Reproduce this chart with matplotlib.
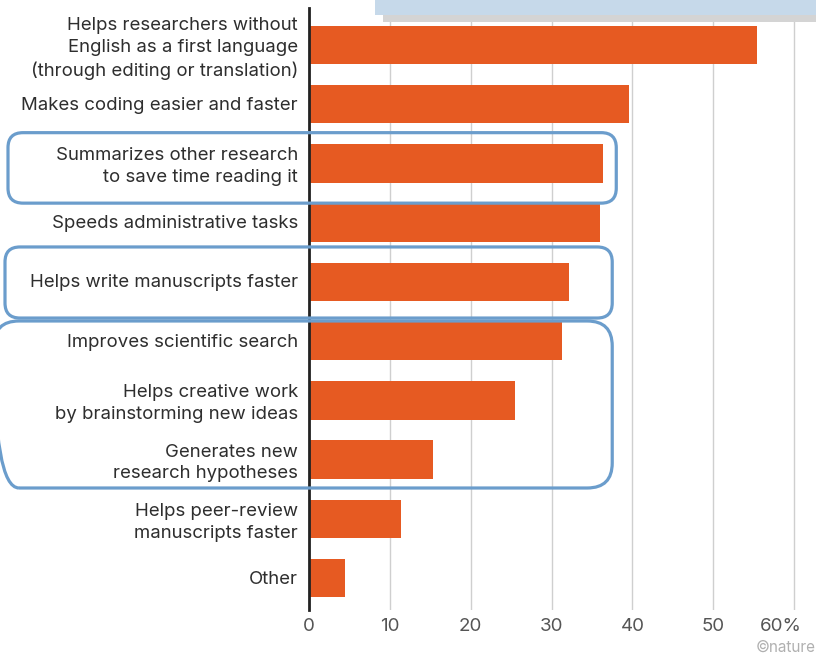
import matplotlib
matplotlib.use('Agg')
import matplotlib.pyplot as plt
from matplotlib.patches import FancyBboxPatch, Rectangle
from matplotlib.transforms import IdentityTransform, ScaledTranslation

categories = [
    "Helps researchers without\nEnglish as a first language\n(through editing or translation)",
    "Makes coding easier and faster",
    "Summarizes other research\nto save time reading it",
    "Speeds administrative tasks",
    "Helps write manuscripts faster",
    "Improves scientific search",
    "Helps creative work\nby brainstorming new ideas",
    "Generates new\nresearch hypotheses",
    "Helps peer-review\nmanuscripts faster",
    "Other",
]
values = [55.4, 39.6, 36.3, 36.0, 32.2, 31.3, 25.5, 15.3, 11.4, 4.5]
xticks = [0, 10, 20, 30, 40, 50, 60]
xticklabels = ["0", "10", "20", "30", "40", "50", "60%"]
# highlight groups: (first index, last index)
groups = [(2, 2), (4, 4), (5, 7)]

plt.rcParams['font.family'] = ['Inter', 'DejaVu Sans']

W, H = 816, 655
fig = plt.figure(figsize=(W / 100, H / 100), dpi=100)
ax = fig.add_axes([309 / W, 1 - 610 / H, 1 - 309 / W, (610 - 8) / H])

ypos = list(range(len(categories)))
ax.barh(ypos, values, height=0.65, color='#e65a22', zorder=2)
ax.set_ylim(9.54, -0.625)
ax.set_xlim(0, 62.7)

ax.set_yticks(ypos)
ax.set_yticklabels(categories, fontsize=13.4, color='#2e2e2e', linespacing=1.37)
ax.tick_params(axis='y', length=0, pad=8)
for lab in ax.get_yticklabels():
    lab.set_transform(lab.get_transform() + ScaledTranslation(0, 1 / 100, fig.dpi_scale_trans))

ax.set_xticks(xticks)
ax.set_xticklabels(xticklabels)
ax.tick_params(axis='x', length=0, pad=6, labelsize=13.5, labelcolor='#555555')
last = ax.get_xticklabels()[-1]
last.set_ha('right')
last.set_transform(last.get_transform() + ScaledTranslation(8 / 100, 0, fig.dpi_scale_trans))

ax.grid(axis='x', color='#cfcfcf', lw=1, zorder=0)
ax.set_axisbelow(True)
for s in ['top', 'right', 'bottom']:
    ax.spines[s].set_visible(False)
ax.spines['left'].set_color('#222222')
ax.spines['left'].set_linewidth(2)
ax.spines['left'].set_zorder(3)

# highlight rounded boxes (pixel space)
box_specs = [
    # (group, top offset, bottom offset, left px, right data x, radius)
    (groups[0], 0.52, 0.67, 8, 38.0, 15),
    (groups[1], 0.59, 0.61, 5, 37.5, 15),
    (groups[2], 0.34, 0.48, -6, 37.5, 25),
]
for (g0, g1), toff, boff, left_px, right_x, rad in box_specs:
    (xr, ytop) = ax.transData.transform((right_x, g0 - toff))
    (_, ybot) = ax.transData.transform((right_x, g1 + boff))
    p = FancyBboxPatch((left_px, ybot), xr - left_px, ytop - ybot,
                       boxstyle=f"round,pad=0,rounding_size={rad}",
                       transform=IdentityTransform(), fill=False,
                       edgecolor='#6b9dcc', linewidth=2.3, zorder=10)
    fig.add_artist(p)

# callout box at top
fig.add_artist(Rectangle((383 / W, 1 - 22 / H), 1 - 383 / W, 8 / H,
                         transform=fig.transFigure, facecolor='#d4d4d4',
                         edgecolor='none', zorder=9))
fig.add_artist(Rectangle((375 / W, 1 - 15 / H), 1 - 375 / W, 15 / H,
                         transform=fig.transFigure, facecolor='#c6d9ea',
                         edgecolor='none', zorder=10))

fig.text(1.0, 1 - 647 / H, "©nature", ha='right', va='center',
         fontsize=11, color='#b0b0b0')

fig.savefig('out.png', dpi=100)
